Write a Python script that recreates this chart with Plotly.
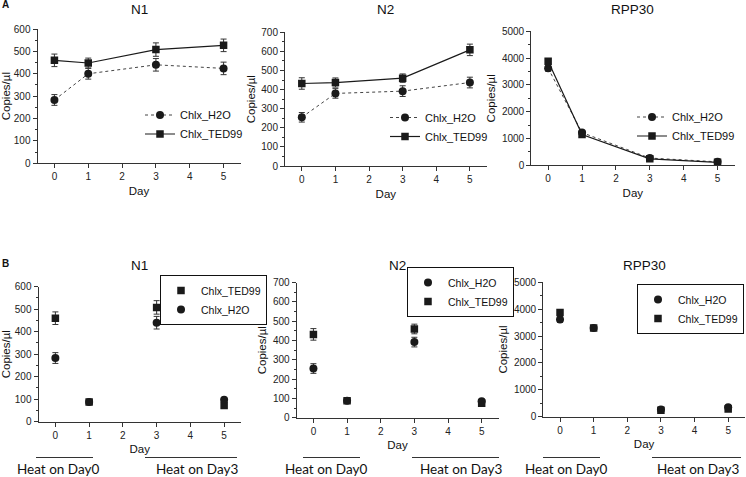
import plotly.graph_objects as go

W, H = 746, 477

days = [0, 1, 3, 5]
tick_days = [0, 1, 2, 3, 4, 5]

# Panel A (time course)
a_n1_h2o = [283, 400, 440, 424]
a_n1_h2o_err = [24, 24, 28, 28]
a_n1_ted = [460, 448, 508, 527]
a_n1_ted_err = [28, 22, 30, 28]

a_n2_h2o = [255, 380, 392, 437]
a_n2_h2o_err = [25, 25, 28, 28]
a_n2_ted = [432, 437, 460, 608]
a_n2_ted_err = [30, 24, 22, 30]

a_rpp_h2o = [3620, 1220, 270, 130]
a_rpp_h2o_err = [110, 60, 30, 20]
a_rpp_ted = [3880, 1150, 240, 110]
a_rpp_ted_err = [100, 60, 30, 20]

# Panel B (heat treatment)
b_n1_h2o = [283, 88, 440, 98]
b_n1_h2o_err = [24, 5, 28, 8]
b_n1_ted = [460, 88, 508, 72]
b_n1_ted_err = [28, 5, 30, 6]

b_n2_h2o = [255, 88, 392, 85]
b_n2_h2o_err = [25, 5, 25, 6]
b_n2_ted = [432, 88, 460, 75]
b_n2_ted_err = [30, 5, 25, 6]

b_rpp_h2o = [3620, 3300, 270, 350]
b_rpp_h2o_err = [110, 40, 30, 40]
b_rpp_ted = [3880, 3300, 240, 290]
b_rpp_ted_err = [100, 40, 30, 30]

titles = ["N1", "N2", "RPP30", "N1", "N2", "RPP30"]
y_ranges = [600, 700, 5000, 600, 700, 5000]
y_dticks = [100, 100, 1000, 100, 100, 1000]
heat_labels = ["Heat on Day0", "Heat on Day3"]
series_names = ["Chlx_H2O", "Chlx_TED99"]

# pixel boxes: (x0, x1, ytop, ybottom)
boxes = [
    (37.5, 240.5, 29.0, 163.3),
    (285.0, 486.7, 32.3, 166.0),
    (531.2, 734.5, 31.3, 165.3),
    (38.5, 241.0, 286.7, 421.7),
    (296.6, 498.5, 282.7, 417.7),
    (543.2, 745.0, 282.3, 416.7),
]
# group underline spans and label centres for B panels (pixels)
heat_lines = [
    [(36, 93, 58), (145, 237, 197)],
    [(303, 360, 326), (412, 499, 461)],
    [(543, 600, 566), (652, 741, 698)],
]

def px_x(p):
    return p / W

def px_y(p):
    return 1 - p / H

FONT = "Liberation Sans"
DARK = "#1a1a1a"

fig = go.Figure()

def add(ax, x, y, err, name, symbol, mode, dash, legend):
    sfx = "" if ax == 1 else str(ax)
    fig.add_trace(go.Scatter(
        x=x, y=y, name=name, mode=mode,
        xaxis="x" + sfx, yaxis="y" + sfx,
        legend=legend,
        marker=dict(symbol=symbol, size=8 if symbol == "circle" else 7.5, color=DARK),
        line=dict(color="#444444" if dash != "solid" else DARK, width=1 if dash != "solid" else 1.2, dash=dash),
        error_y=dict(type="data", array=err, visible=True, color="#333333", thickness=1, width=3),
    ))

# A panels
add(1, days, a_n1_h2o, a_n1_h2o_err, series_names[0], "circle", "lines+markers", "dot", "legend")
add(1, days, a_n1_ted, a_n1_ted_err, series_names[1], "square", "lines+markers", "solid", "legend")
add(2, days, a_n2_h2o, a_n2_h2o_err, series_names[0], "circle", "lines+markers", "dot", "legend2")
add(2, days, a_n2_ted, a_n2_ted_err, series_names[1], "square", "lines+markers", "solid", "legend2")
add(3, days, a_rpp_h2o, a_rpp_h2o_err, series_names[0], "circle", "lines+markers", "dot", "legend3")
add(3, days, a_rpp_ted, a_rpp_ted_err, series_names[1], "square", "lines+markers", "solid", "legend3")
# B panels
add(4, days, b_n1_ted, b_n1_ted_err, series_names[1], "square", "markers", "solid", "legend4")
add(4, days, b_n1_h2o, b_n1_h2o_err, series_names[0], "circle", "markers", "solid", "legend4")
add(5, days, b_n2_h2o, b_n2_h2o_err, series_names[0], "circle", "markers", "solid", "legend5")
add(5, days, b_n2_ted, b_n2_ted_err, series_names[1], "square", "markers", "solid", "legend5")
add(6, days, b_rpp_h2o, b_rpp_h2o_err, series_names[0], "circle", "markers", "solid", "legend6")
add(6, days, b_rpp_ted, b_rpp_ted_err, series_names[1], "square", "markers", "solid", "legend6")

layout = dict(
    width=W, height=H,
    margin=dict(l=0, r=0, t=0, b=0, autoexpand=False),
    paper_bgcolor="white", plot_bgcolor="white",
    font=dict(family=FONT, size=11, color="#111"),
    annotations=[], shapes=[],
)

for i, (x0, x1, yt, yb) in enumerate(boxes):
    n = i + 1
    sfx = "" if n == 1 else str(n)
    layout["xaxis" + sfx] = dict(
        domain=[px_x(x0), px_x(x1)], anchor="y" + sfx, automargin=False,
        range=[-0.5, 5.5], tickvals=tick_days, ticks="outside", ticklen=4,
        tickcolor="#333", showline=True, linecolor="#333", linewidth=1,
        showgrid=False, zeroline=False, tickfont=dict(size=10, color="#222"),
        title=dict(text="Day", font=dict(size=11.5), standoff=5),
    )
    layout["yaxis" + sfx] = dict(
        domain=[px_y(yb), px_y(yt)], anchor="x" + sfx, automargin=False,
        range=[0, y_ranges[i]], dtick=y_dticks[i], ticks="outside", ticklen=4,
        tickcolor="#333", showline=True, linecolor="#333", linewidth=1,
        showgrid=False, zeroline=False, tickfont=dict(size=10, color="#222"),
        minor=dict(dtick=y_dticks[i] / 2, ticks="outside", ticklen=2, tickcolor="#333"),
        title=dict(text="Copies/µl", font=dict(size=11.5), standoff=3),
    )
    cx = (x0 + x1) / 2
    title_y = 9.5 if i < 3 else 265
    layout["annotations"].append(dict(
        text=titles[i], x=px_x(cx), y=px_y(title_y), xref="paper", yref="paper",
        showarrow=False, font=dict(size=13.5, color="#111"), xanchor="center", yanchor="middle",
    ))

for spans in heat_lines:
    for (la, lb, c), lab in zip(spans, heat_labels):
        layout["shapes"].append(dict(
            type="line", xref="paper", yref="paper",
            x0=px_x(la), x1=px_x(lb), y0=px_y(457.5), y1=px_y(457.5),
            line=dict(color="#333", width=1),
        ))
        layout["annotations"].append(dict(
            text=lab, x=px_x(c), y=px_y(469), xref="paper", yref="paper",
            showarrow=False, font=dict(family="Lato", size=13.5, color="#111"),
            xanchor="center", yanchor="middle",
        ))

layout["annotations"].append(dict(text="<b>A</b>", x=0, y=px_y(4), xref="paper", yref="paper",
                                  showarrow=False, xanchor="left", yanchor="middle", font=dict(size=10)))
layout["annotations"].append(dict(text="<b>B</b>", x=0, y=px_y(263), xref="paper", yref="paper",
                                  showarrow=False, xanchor="left", yanchor="middle", font=dict(size=10)))

leg_common = dict(xref="paper", yref="paper", xanchor="left", yanchor="top",
                  bgcolor="rgba(255,255,255,0)", font=dict(size=11, color="#111"),
                  itemwidth=30, tracegroupgap=0)
# legends A (no border)
layout["legend"] = dict(x=px_x(140), y=px_y(100.5), **leg_common)
layout["legend2"] = dict(x=px_x(385), y=px_y(103), **leg_common)
layout["legend3"] = dict(x=px_x(632), y=px_y(102.5), **leg_common)
# legends B (bordered)
bor = dict(bordercolor="#111", borderwidth=1)
lc = dict(leg_common); lc["bgcolor"] = "white"; lc["font"] = dict(size=10.5, color="#111")
layout["legend4"] = dict(x=px_x(160), y=px_y(275), **lc, **bor)
layout["legend5"] = dict(x=px_x(407), y=px_y(267), **lc, **bor)
layout["legend6"] = dict(x=px_x(637), y=px_y(284), **lc, **bor)

fig.update_layout(**layout)
fig.write_html(
    "out.html",
    config={"displayModeBar": False},
    post_script="document.body.style.margin='0';document.body.style.overflow='hidden';",
)
